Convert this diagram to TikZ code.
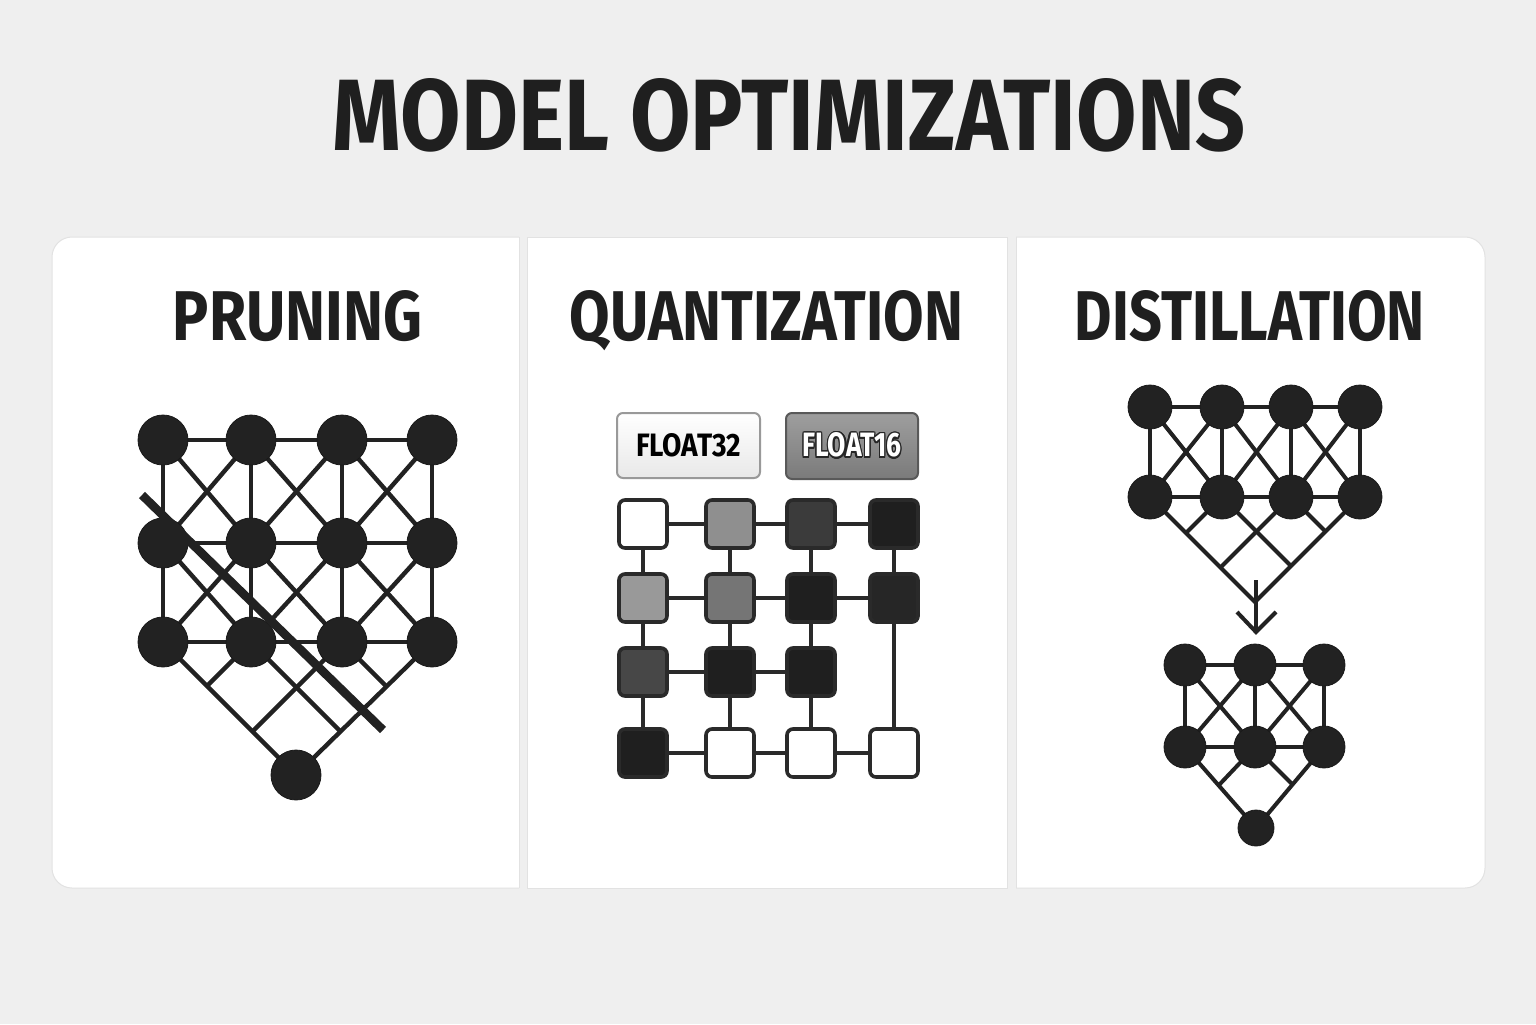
\documentclass[tikz,border=0pt]{standalone}
\usepackage{fontspec}
\setmainfont{Fira Sans}
\usepackage{graphicx}
\usepackage{contour}
\contourlength{0.45pt}
\usetikzlibrary{shadings}
\definecolor{bgc}{HTML}{EFEFEF}
\definecolor{ink}{HTML}{222222}
\definecolor{txt}{HTML}{1F1F1F}
\definecolor{pbord}{HTML}{E2E2E2}
\definecolor{sqline}{HTML}{2A2A2A}
\pgfdeclarelayer{back}
\pgfdeclarelayer{bg}
\pgfsetlayers{back,bg,main}
\newcommand{\fitt}[3]{\resizebox{#1}{#2}{\bfseries #3}}
\begin{document}
\begin{tikzpicture}[x=0.5pt,y=-0.5pt,
  nd/.style={circle, fill=ink, draw=black!90, line width=0.4pt, minimum size=#1, inner sep=0pt},
  edge/.style={draw=ink, line width=2.2pt},
  edgeb/.style={draw=ink, line width=2pt},
  sq/.style={rectangle, rounded corners=3pt, minimum size=24pt, draw=sqline, line width=1.8pt, fill=#1, inner sep=0pt},
  qline/.style={draw=sqline, line width=1.6pt},
  ttl/.style={inner sep=0pt, text=txt, anchor=base}]
\useasboundingbox (0,0) rectangle (1536,1024);
\begin{pgfonlayer}{back}
\fill[bgc] (0,0) rectangle (1536,1024);
\begin{scope}
\clip (0,0) rectangle (519,1024);
\draw[fill=white, draw=pbord, line width=0.5pt, rounded corners=10pt] (52,237) rectangle (580,888);
\end{scope}
\draw[pbord, line width=0.5pt] (519,237) -- (519,888);
\draw[fill=white, draw=pbord, line width=0.5pt] (527,237) rectangle (1007,888);
\begin{scope}
\clip (1016,0) rectangle (1536,1024);
\draw[fill=white, draw=pbord, line width=0.5pt, rounded corners=10pt] (960,237) rectangle (1485,888);
\end{scope}
\draw[pbord, line width=0.5pt] (1016,237) -- (1016,888);
\end{pgfonlayer}

% titles
\node[ttl] (title) at (789,150) {\fitt{456pt}{36pt}{MODEL OPTIMIZATIONS}};
\node[ttl] (tprun) at (297.5,340) {\fitt{124.5pt}{25pt}{PRUNING}};
\node[ttl] (tquant) at (766.5,340) {\fitt{196.5pt}{25pt}{QUANTIZATION}};
\node[ttl] (tdist) at (1250,340) {\fitt{175pt}{25pt}{DISTILLATION}};

% ---------------- pruning
\foreach \r/\y in {1/440,2/543,3/642}{
  \foreach \c/\x in {1/163,2/251,3/342,4/432}{
    \node[nd=25pt] (p\r\c) at (\x,\y) {};
  }}
\node[nd=25pt] (pb) at (296,775) {};
\coordinate (pA) at (207,686);
\coordinate (pB) at (340.5,731.5);
\coordinate (pC) at (252.5,731.5);
\coordinate (pD) at (386.5,686.5);
\begin{pgfonlayer}{bg}
\foreach \r in {1,2,3}{\foreach \c/\d in {1/2,2/3,3/4}{\draw[edge] (p\r\c.center) -- (p\r\d.center);}}
\foreach \r/\s in {1/2,2/3}{\foreach \c in {1,2,3,4}{\draw[edge] (p\r\c.center) -- (p\s\c.center);}}
\foreach \r/\s in {1/2,2/3}{\foreach \c/\d in {1/2,2/3,3/4}{
  \draw[edge] (p\r\c.center) -- (p\s\d.center);
  \draw[edge] (p\r\d.center) -- (p\s\c.center);}}
\draw[edge] (p31.center) -- (pb.center);
\draw[edge] (p34.center) -- (pb.center);
\draw[edge] (p32.center) -- (pA);
\draw[edge] (p32.center) -- (pB);
\draw[edge] (p33.center) -- (pC);
\draw[edge] (p33.center) -- (pD);
\end{pgfonlayer}
\coordinate (sl1) at (142,495);
\coordinate (sl2) at (383,730);
\draw[ink, line width=4.3pt] (sl1) -- (sl2);

% ---------------- quantization
\node[draw=black!40, line width=1pt, rounded corners=3pt, top color=white, bottom color=black!9,
  minimum width=71.5pt, minimum height=32.5pt, inner sep=0pt] (f32) at (688.5,445.5)
  {\fitt{52.5pt}{11.5pt}{FLOAT32}};
\node[draw=black!65, line width=1pt, rounded corners=3pt, top color=black!38, bottom color=black!52,
  minimum width=66pt, minimum height=33pt, inner sep=0pt] (f16) at (852,446)
  {\fitt{49.5pt}{12pt}{\contour{black!85}{\textcolor{white}{FLOAT16}}}};
\foreach \r/\y in {1/524,2/598,3/672,4/753}{
  \foreach \c/\x in {1/643,2/730,3/811,4/894}{
    \coordinate (qc\r\c) at (\x,\y);
  }}
\node[sq=white] (q11) at (qc11) {};
\node[sq=black!44] (q12) at (qc12) {};
\node[sq=black!77] (q13) at (qc13) {};
\node[sq=black!88] (q14) at (qc14) {};
\node[sq=black!40] (q21) at (qc21) {};
\node[sq=black!54] (q22) at (qc22) {};
\node[sq=black!88] (q23) at (qc23) {};
\node[sq=black!85] (q24) at (qc24) {};
\node[sq=black!72] (q31) at (qc31) {};
\node[sq=black!88] (q32) at (qc32) {};
\node[sq=black!88] (q33) at (qc33) {};
\node[sq=black!88] (q41) at (qc41) {};
\node[sq=white] (q42) at (qc42) {};
\node[sq=white] (q43) at (qc43) {};
\node[sq=white] (q44) at (qc44) {};
\begin{pgfonlayer}{bg}
\foreach \a/\b in {11/12,12/13,13/14,21/22,22/23,23/24,31/32,32/33,41/42,42/43,43/44,
  11/21,12/22,13/23,14/24,21/31,22/32,23/33,24/44,31/41,32/42,33/43}{
  \draw[qline] (q\a.center) -- (q\b.center);}
\end{pgfonlayer}

% ---------------- distillation (teacher)
\foreach \r/\y in {1/407,2/497}{
  \foreach \c/\x in {1/1150,2/1222,3/1291,4/1360}{
    \node[nd=22pt] (d\r\c) at (\x,\y) {};
  }}
\coordinate (dA) at (1186,533);
\coordinate (dB) at (1291,566);
\coordinate (dC) at (1220.5,567.5);
\coordinate (dD) at (1325.5,531.5);
\coordinate (dE) at (1255,602);
\begin{pgfonlayer}{bg}
\foreach \r in {1,2}{\foreach \c/\d in {1/2,2/3,3/4}{\draw[edgeb] (d\r\c.center) -- (d\r\d.center);}}
\foreach \c in {1,2,3,4}{\draw[edgeb] (d1\c.center) -- (d2\c.center);}
\foreach \c/\d in {1/2,2/3,3/4}{
  \draw[edgeb] (d1\c.center) -- (d2\d.center);
  \draw[edgeb] (d1\d.center) -- (d2\c.center);}
\draw[edgeb, line join=miter] (d21.center) -- (dE) -- (d24.center);
\draw[edgeb] (d22.center) -- (dA);
\draw[edgeb] (d22.center) -- (dB);
\draw[edgeb] (d23.center) -- (dC);
\draw[edgeb] (d23.center) -- (dD);
\end{pgfonlayer}
% arrow
\coordinate (ar1) at (1256,580);
\coordinate (ar2) at (1256,632);
\coordinate (arL) at (1237,612);
\coordinate (arR) at (1276,612);
\draw[edgeb] (ar1) -- (ar2);
\draw[edgeb, line join=miter] (arL) -- (ar2) -- (arR);

% student
\foreach \r/\y in {1/665,2/747}{
  \foreach \c/\x in {1/1185,2/1255,3/1324}{
    \node[nd=21pt] (s\r\c) at (\x,\y) {};
  }}
\node[nd=18pt] (sb) at (1256,828) {};
\coordinate (sA) at (1219,785);
\coordinate (sB) at (1292.5,784.5);
\begin{pgfonlayer}{bg}
\foreach \r in {1,2}{\foreach \c/\d in {1/2,2/3}{\draw[edgeb] (s\r\c.center) -- (s\r\d.center);}}
\foreach \c in {1,2,3}{\draw[edgeb] (s1\c.center) -- (s2\c.center);}
\foreach \c/\d in {1/2,2/3}{
  \draw[edgeb] (s1\c.center) -- (s2\d.center);
  \draw[edgeb] (s1\d.center) -- (s2\c.center);}
\draw[edgeb] (s21.center) -- (sb.center);
\draw[edgeb] (s23.center) -- (sb.center);
\draw[edgeb] (s22.center) -- (sA);
\draw[edgeb] (s22.center) -- (sB);
\end{pgfonlayer}
\end{tikzpicture}
\end{document}
